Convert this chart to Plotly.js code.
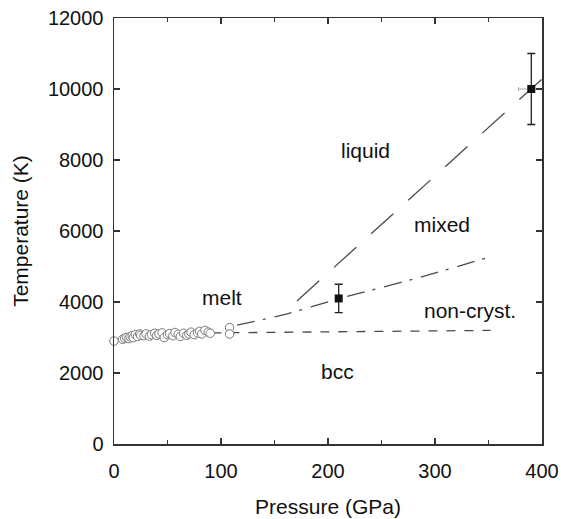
<!DOCTYPE html>
<html><head><meta charset="utf-8">
<script src="https://cdn.plot.ly/plotly-3.0.1.min.js"></script>
<style>html,body{margin:0;padding:0;background:#fff;}</style>
</head><body>
<div id="chart" style="width:561px;height:519px;"></div>
<script>
const circleP = [0, 8, 10, 12, 14, 15, 17, 18, 20, 22, 24, 25, 28, 30, 33, 35, 38, 40, 42, 45, 47, 50, 52, 55, 57, 60, 62, 65, 68, 70, 72, 75, 78, 80, 82, 85, 88, 90, 108, 108];
const circleT = [2900, 2950, 2980, 3000, 2970, 3020, 3050, 3000, 3080, 3030, 3100, 3060, 3050, 3100, 3040, 3080, 3120, 3060, 3100, 3130, 3000, 3080, 3110, 3050, 3140, 3090, 3030, 3120, 3060, 3100, 3150, 3080, 3130, 3170, 3100, 3200, 3150, 3120, 3280, 3100];
const squareP = [210, 390];
const squareT = [4100, 10000];
const squareTErr = [400, 1000];
const squarePErr = [0, 12];
const bccP = [92, 352];
const bccT = [3130, 3200];
const noncrystP = [115, 160, 210, 290, 350];
const noncrystT = [3350, 3650, 4090, 4730, 5260];
const liquidP = [171, 230, 300, 370, 400];
const liquidT = [4030, 5640, 7550, 9460, 10280];
const labels = [
  {text: 'liquid', p: 235, t: 8280},
  {text: 'mixed', p: 307, t: 6170},
  {text: 'melt', p: 101, t: 4140},
  {text: 'non-cryst.', p: 333, t: 3770},
  {text: 'bcc', p: 209, t: 2030}
];
const lineCol = '#4a4a4a';
const fontFam = 'Liberation Sans, Arial, sans-serif';
const traces = [
  {x: bccP, y: bccT, mode: 'lines', line: {color: lineCol, width: 1.3, dash: '9px,9px'}, hoverinfo: 'skip'},
  {x: noncrystP, y: noncrystT, mode: 'lines', line: {color: lineCol, width: 1.3, dash: '18px,8px,3px,9px', shape: 'spline', smoothing: 0.6}, hoverinfo: 'skip'},
  {x: liquidP, y: liquidT, mode: 'lines', line: {color: lineCol, width: 1.3, dash: '30px,20px'}, hoverinfo: 'skip'},
  {x: circleP, y: circleT, mode: 'markers', cliponaxis: false,
   marker: {symbol: 'circle', size: 8.5, color: '#ffffff', line: {color: '#7a7a7a', width: 1}}},
  {x: squareP, y: squareT, mode: 'markers', cliponaxis: false,
   marker: {symbol: 'square', size: 8, color: '#111111'},
   error_y: {type: 'data', array: squareTErr, visible: true, color: '#222', thickness: 1.3, width: 4},
   error_x: {type: 'data', array: squarePErr, visible: true, color: '#aaaaaa', thickness: 1, width: 2}}
];
const axisCommon = {
  showline: true, linecolor: '#333', linewidth: 1.5, mirror: 'ticks',
  ticks: 'inside', ticklen: 6, tickwidth: 1.3, tickcolor: '#333',
  showgrid: false, zeroline: false, tickformat: 'd', automargin: false,
  tickfont: {family: fontFam, size: 20, color: '#111'}
};
const layout = {
  width: 561, height: 519,
  margin: {l: 114, r: 19, t: 18, b: 75},
  paper_bgcolor: '#fff', plot_bgcolor: '#fff',
  showlegend: false,
  xaxis: Object.assign({}, axisCommon, {
    range: [0, 400], dtick: 100, tick0: 0, ticklabelstandoff: 8,
    minor: {dtick: 50, ticks: 'inside', ticklen: 4, tickcolor: '#333', tickwidth: 1.2},
    title: {text: 'Pressure (GPa)', font: {family: fontFam, size: 21, color: '#111'}, standoff: 19}
  }),
  yaxis: Object.assign({}, axisCommon, {
    range: [0, 12000], dtick: 2000, tick0: 0, ticklabelstandoff: 5,
    title: {text: 'Temperature (K)', font: {family: fontFam, size: 21, color: '#111'}, standoff: 13}
  }),
  annotations: labels.map(l => ({
    x: l.p, y: l.t, xref: 'x', yref: 'y', text: l.text, showarrow: false,
    font: {family: fontFam, size: 21, color: '#111'}
  }))
};
Plotly.newPlot('chart', traces, layout, {displayModeBar: false, staticPlot: true});
</script>
</body></html>
